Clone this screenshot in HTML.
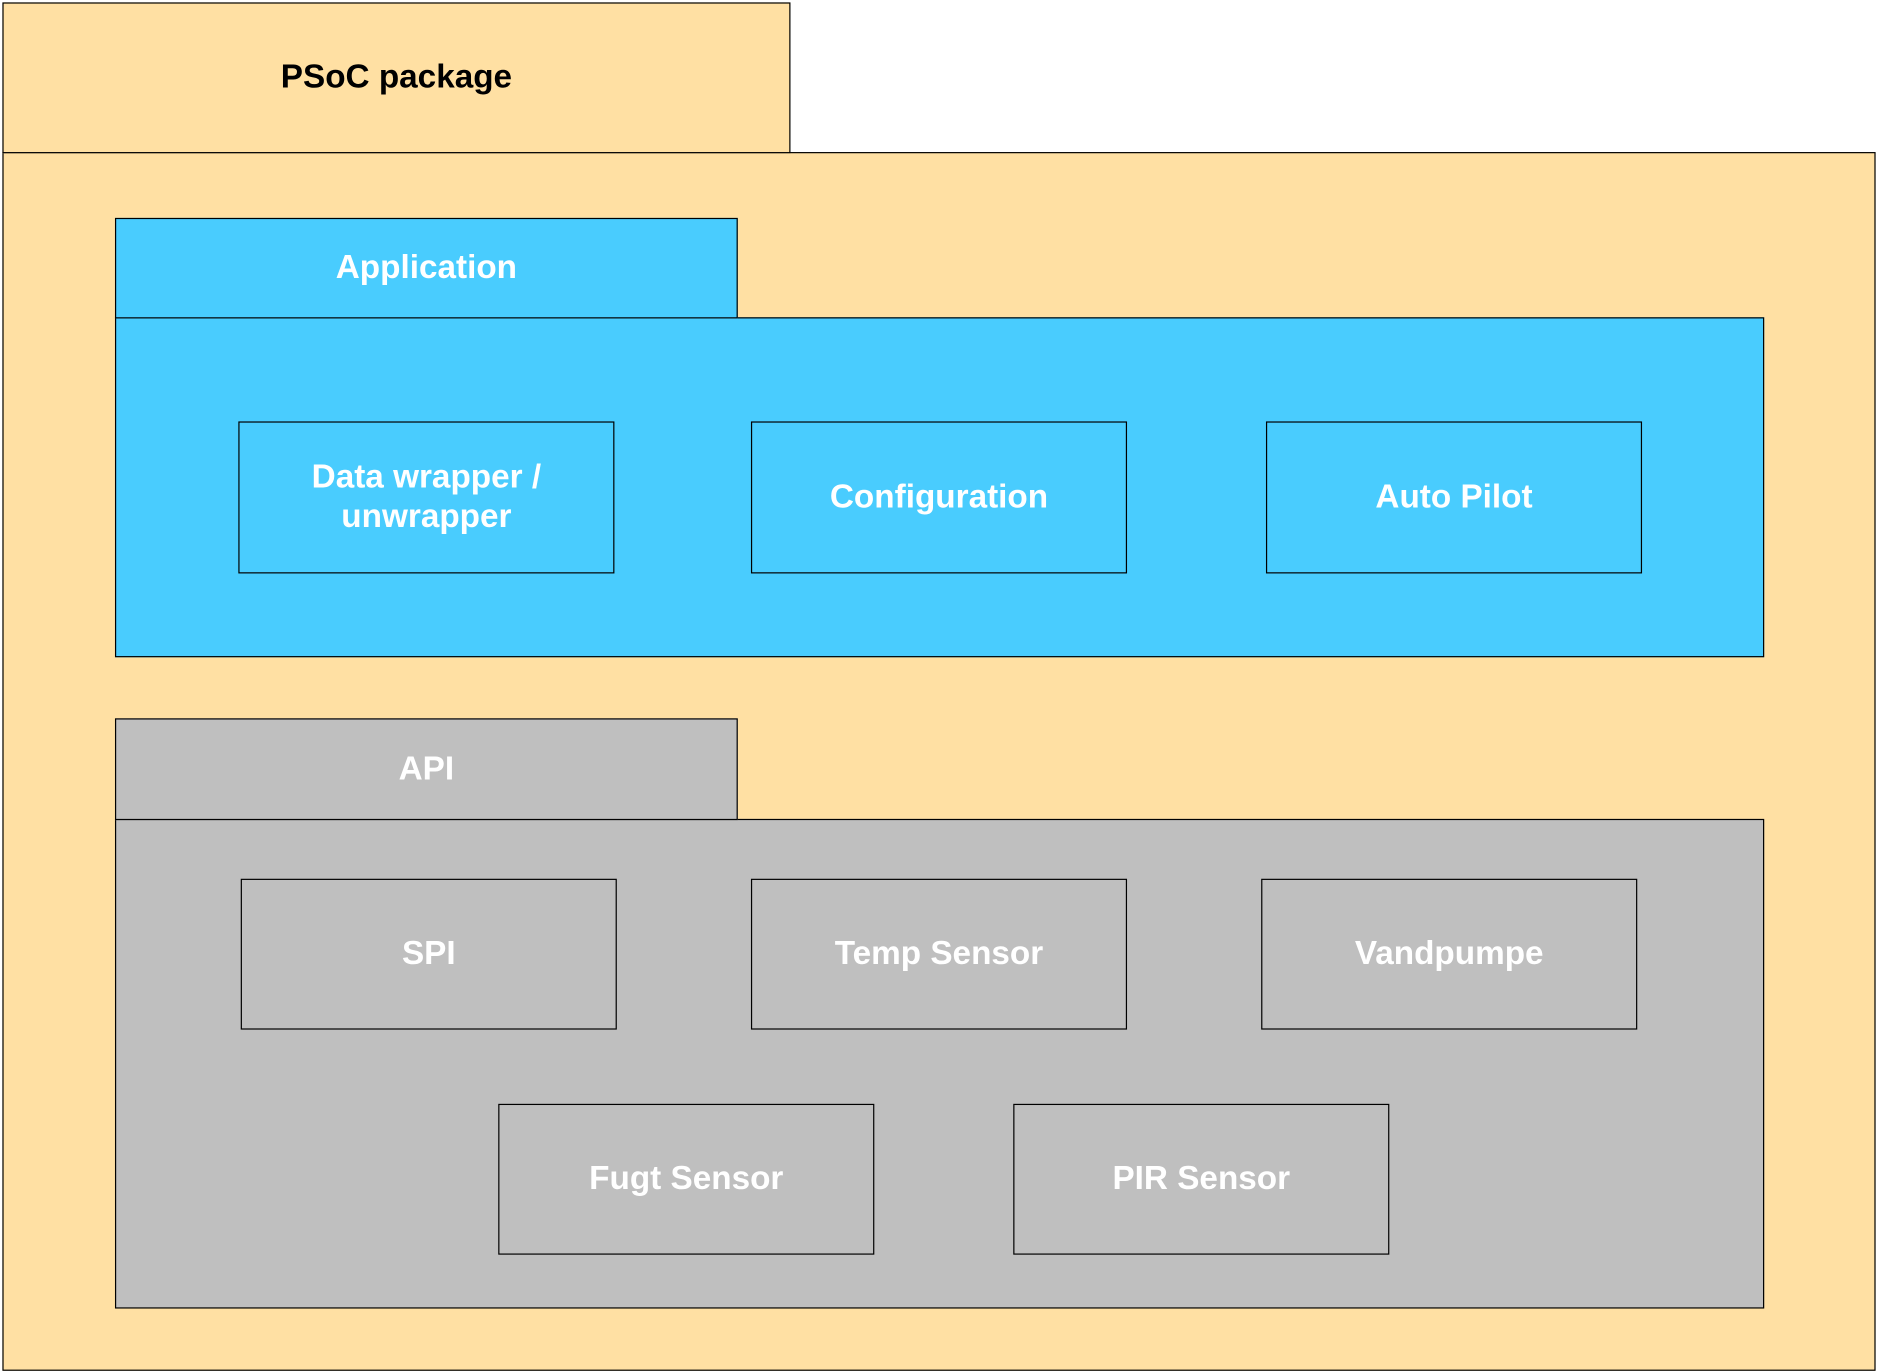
<!DOCTYPE html>
<html><head><style>
html,body{margin:0;padding:0;background:#fff;width:1878px;height:1372px;overflow:hidden}
#s{position:absolute;left:0;top:0;width:1568px;height:1146px;transform:scale(1.19770,1.19721);transform-origin:0 0}
.b{position:absolute;box-sizing:border-box;border:1px solid #000;display:flex;align-items:center;justify-content:center;text-align:center;font-family:"Liberation Sans",Arial,sans-serif;font-weight:bold;font-size:27.8px;line-height:33px;color:#fff;padding-bottom:3px}
.y{background:#ffe0a3}.c{background:#49ccfe}.g{background:#bfbfbf}
</style></head><body><div id="s">
<div class="b y" style="left:2px;top:127px;width:1564px;height:1018px"></div>
<div class="b y" style="left:2px;top:2px;width:658px;height:126px;color:#000">PSoC package</div>

<div class="b c" style="left:96px;top:265px;width:1377px;height:284px"></div>
<div class="b c" style="left:96px;top:182px;width:520px;height:84px">Application</div>
<div class="b c" style="left:199px;top:352px;width:314px;height:127px">Data wrapper /<br>unwrapper</div>
<div class="b c" style="left:627px;top:352px;width:314px;height:127px">Configuration</div>
<div class="b c" style="left:1057px;top:352px;width:314px;height:127px">Auto Pilot</div>

<div class="b g" style="left:96px;top:684px;width:1377px;height:409px"></div>
<div class="b g" style="left:96px;top:600px;width:520px;height:85px">API</div>
<div class="b g" style="left:201px;top:734px;width:314px;height:126px">SPI</div>
<div class="b g" style="left:627px;top:734px;width:314px;height:126px">Temp Sensor</div>
<div class="b g" style="left:1053px;top:734px;width:314px;height:126px">Vandpumpe</div>
<div class="b g" style="left:416px;top:922px;width:314px;height:126px">Fugt Sensor</div>
<div class="b g" style="left:846px;top:922px;width:314px;height:126px">PIR Sensor</div>
</div></body></html>
